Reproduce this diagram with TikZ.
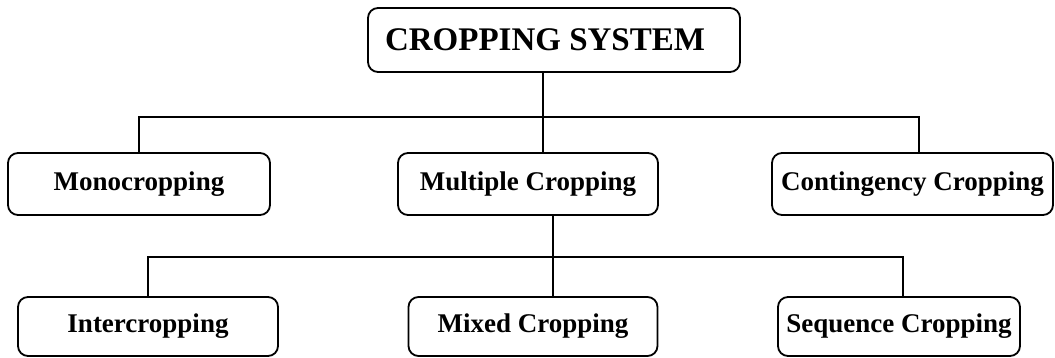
\documentclass[tikz,border=0pt]{standalone}
\usepackage{fontspec}
\setmainfont{Liberation Serif}
\usetikzlibrary{positioning}

\tikzset{
    cropbox/.style={draw, line width=1.8pt, rounded corners=10pt, inner sep=0pt,
        font=\fontsize{27}{30}\selectfont\bfseries, align=center},
    link/.style={line width=1.8pt}
}

\begin{document}
\begin{tikzpicture}[x=1pt,y=-1pt]
    \useasboundingbox (0,0) rectangle (1055,358);

    \node[cropbox, minimum width=372pt, minimum height=64pt,
          font=\fontsize{33}{36}\selectfont\bfseries] (sys) at (554,40) {CROPPING SYSTEM\hspace*{18pt}};

    \node[cropbox, minimum width=262pt, minimum height=62pt] (mono) at (139,184) {Monocropping};
    \node[cropbox, minimum width=260pt, minimum height=62pt] (multi) at (528,184) {Multiple Cropping};
    \node[cropbox, minimum width=281pt, minimum height=62pt] (cont) at (912.5,184) {Contingency Cropping};

    \node[cropbox, minimum width=260pt, minimum height=59pt] (inter) at (148,326.5) {Intercropping};
    \node[cropbox, minimum width=249pt, minimum height=59pt] (mixed) at (533,326.5) {Mixed Cropping};
    \node[cropbox, minimum width=242pt, minimum height=59pt] (seq) at (899,326.5) {Sequence Cropping};

    \coordinate (upbus) at (543,117);
    \coordinate (lowbus) at (553,257);

    \draw[link] ([xshift=-11pt]sys.south) -- (upbus);
    \draw[link] (mono.north) |- (upbus) -| ([xshift=6.5pt]cont.north);
    \draw[link] (upbus) -- ([xshift=15pt]multi.north);

    \draw[link] ([xshift=25pt]multi.south) -- (lowbus);
    \draw[link] (inter.north) |- (lowbus) -| ([xshift=4pt]seq.north);
    \draw[link] (lowbus) -- ([xshift=20pt]mixed.north);
\end{tikzpicture}
\end{document}
